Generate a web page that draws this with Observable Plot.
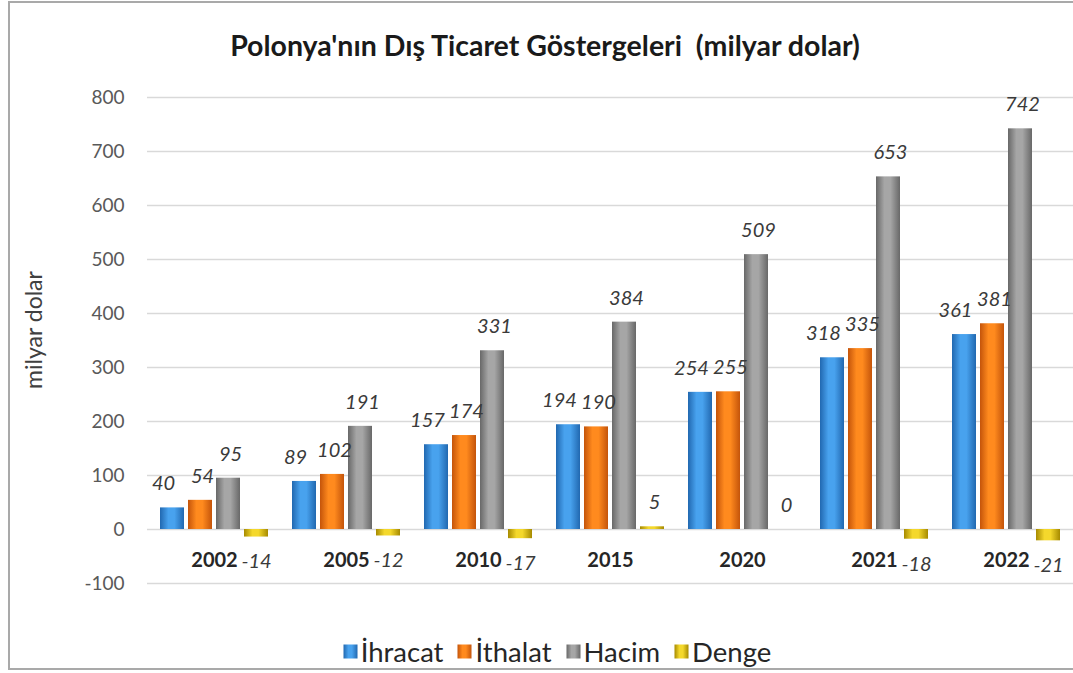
<!DOCTYPE html>
<html>
<head>
<meta charset="utf-8">
<script src="https://cdn.jsdelivr.net/npm/d3@7"></script>
<script src="https://cdn.jsdelivr.net/npm/@observablehq/plot@0.6"></script>
<style>
  body { margin: 0; background: #fff; font-family: Lato, "Open Sans", sans-serif; }
  #wrap { position: relative; width: 1073px; height: 673px; overflow: hidden; background: #fff; }
  #frame { position: absolute; left: 8px; top: 1px; width: 1100px; height: 669px; border-left: 2px solid #a9a9a9; border-top: 2px solid #a9a9a9; border-bottom: 2px solid #a9a9a9; box-sizing: border-box; }
  #title { position: absolute; left: 0; top: 28px; width: 1090px; text-align: center; font-weight: bold; font-size: 28.5px; color: #1a1a1a; line-height: 34px; }
  #grid, #chart { position: absolute; left: 0; top: 80px; }
  #ylabel { position: absolute; left: 33px; top: 330px; transform: translate(-50%, -50%) rotate(-90deg); font-size: 23px; color: #404040; white-space: nowrap; }
  #legend { position: absolute; top: 635px; left: 0; width: 1114px; display: flex; justify-content: center; align-items: center; gap: 14px; font-size: 27.5px; color: #262626; line-height: 33px; }
  #legend .item { display: flex; align-items: center; gap: 3px; }
</style>
</head>
<body>
<div id="wrap">
  <div id="frame"></div>
  <div id="title">Polonya'nın Dış Ticaret Göstergeleri&nbsp; (milyar dolar)</div>
  <div id="grid"></div>
  <div id="chart"></div>
  <div id="ylabel">milyar dolar</div>
  <div id="legend"></div>
</div>
<svg width="0" height="0" style="position:absolute">
  <defs id="gdefs"></defs>
</svg>
<script>
// ---- Data ----
const years = ["2002", "2005", "2010", "2015", "2020", "2021", "2022"];
const series = ["İhracat", "İthalat", "Hacim", "Denge"];
const ihracat = [40, 89, 157, 194, 254, 318, 361];
const ithalat = [54, 102, 174, 190, 255, 335, 381];
const hacim = [95, 191, 331, 384, 509, 653, 742];
const denge = [-14, -12, -17, 5, 0, -18, -21];
const yTicks = [-100, 0, 100, 200, 300, 400, 500, 600, 700, 800];

// ---- Styles ----
const palette = [
  { edge: "#2168b0", mid: "#48a2ee" },
  { edge: "#c4540a", mid: "#ff8a1e" },
  { edge: "#686868", mid: "#a6a6a6" },
  { edge: "#a68a00", mid: "#f4d82c" }
];

const defs = document.getElementById("gdefs");
palette.forEach((p, i) => {
  const g = document.createElementNS("http://www.w3.org/2000/svg", "linearGradient");
  g.setAttribute("id", "g" + i);
  g.setAttribute("x1", "0"); g.setAttribute("x2", "1");
  g.setAttribute("y1", "0"); g.setAttribute("y2", "0");
  [[0, p.edge], [0.35, p.mid], [0.6, p.mid], [1, p.edge]].forEach(([o, c]) => {
    const s = document.createElementNS("http://www.w3.org/2000/svg", "stop");
    s.setAttribute("offset", o); s.setAttribute("stop-color", c);
    g.appendChild(s);
  });
  defs.appendChild(g);
});

const valuesBySeries = [ihracat, ithalat, hacim, denge];
const rows = [];
years.forEach((y, yi) => {
  series.forEach((s, si) => {
    rows.push({ year: y, series: s, value: valuesBySeries[si][yi] });
  });
});

const common = {
  width: 1073,
  height: 545,
  marginLeft: 147,
  marginRight: 0,
  marginTop: 17,
  marginBottom: 42,
  style: { fontFamily: "Lato, 'Open Sans', sans-serif", background: "transparent", overflow: "visible" },
  y: { domain: [-100, 800], axis: null }
};

// Grid + y axis layer (unfaceted so lines run across the whole plot)
const gridPlot = Plot.plot({
  ...common,
  marks: [
    Plot.ruleY(yTicks, { stroke: "#d9d9d9", strokeWidth: 1.5 }),
    Plot.axisY(yTicks, { tickSize: 0, tickPadding: 23, fontSize: 19, color: "#595959", label: null, tickFormat: d => String(d) })
  ]
});
document.getElementById("grid").appendChild(gridPlot);

const labelStyle = { fx: "year", x: "series", y: "value", text: d => String(d.value), fontSize: 20, fontStyle: "italic", fill: "#3a3a3a" };

// Bars layer
const plot = Plot.plot({
  ...common,
  fx: { domain: years, axis: null, label: null, paddingInner: 0.164, paddingOuter: 0.07 },
  x: { domain: series, axis: null, paddingInner: 0.14, paddingOuter: 0 },
  color: { type: "ordinal", domain: series, range: series.map((s, i) => `url(#g${i})`) },
  marks: [
    Plot.barY(rows, { fx: "year", x: "series", y: "value", fill: "series" }),
    Plot.text(rows.filter(d => d.value >= 0 && d.series === series[0]), { ...labelStyle, dy: -24, dx: -9 }),
    Plot.text(rows.filter(d => d.value >= 0 && d.series !== series[0]), { ...labelStyle, dy: -24, dx: 2 }),
    Plot.text(rows.filter(d => d.value < 0), { ...labelStyle, dy: 25 }),
    Plot.text(years, {
      fx: d => d, y: () => 0, text: d => d,
      dy: 31, fontSize: 20, fontWeight: "bold", fill: "#262626"
    })
  ]
});
document.getElementById("chart").appendChild(plot);

// ---- Legend ----
const legend = document.getElementById("legend");
series.forEach((s, i) => {
  const item = document.createElement("div");
  item.className = "item";
  item.innerHTML = `<svg width="15" height="15"><rect x="0.5" y="0.5" width="14" height="14" fill="url(#g${i})"/></svg><span>${s}</span>`;
  legend.appendChild(item);
});
</script>
</body>
</html>
